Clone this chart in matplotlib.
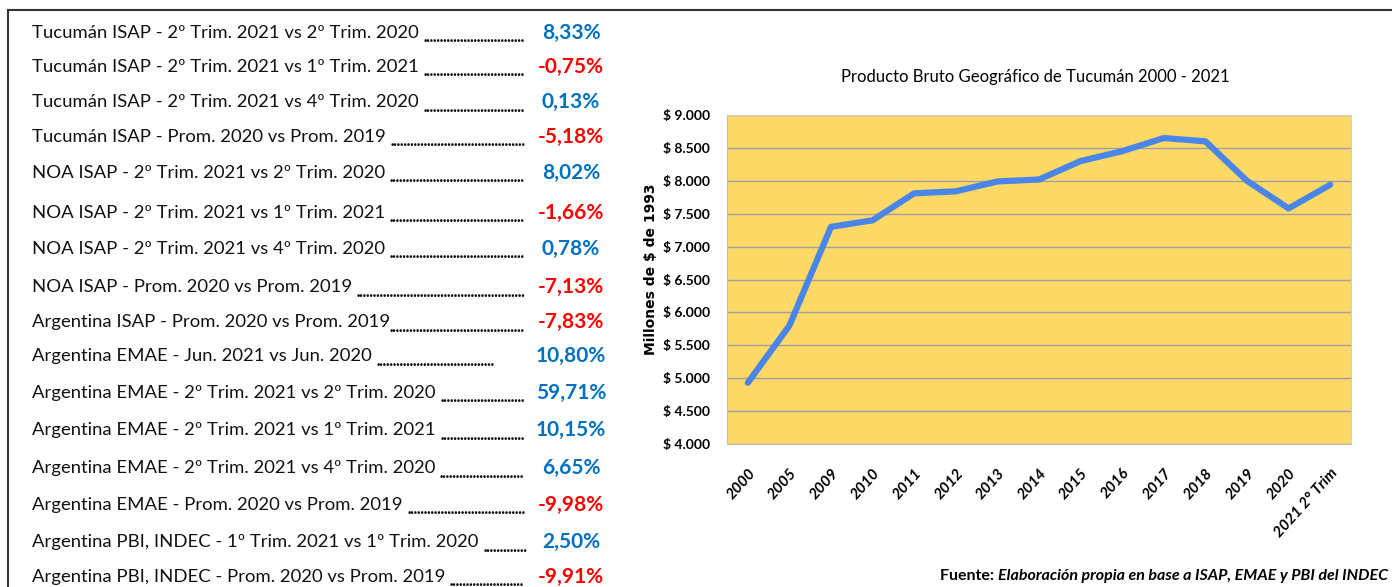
import matplotlib
matplotlib.use("Agg")
import matplotlib.pyplot as plt
from matplotlib import font_manager
from matplotlib.lines import Line2D

# ---- datos ----
etiquetas = [
    "Tucumán ISAP - 2º Trim. 2021 vs 2º Trim. 2020",
    "Tucumán ISAP - 2º Trim. 2021 vs 1º Trim. 2021",
    "Tucumán ISAP - 2º Trim. 2021 vs 4º Trim. 2020",
    "Tucumán ISAP - Prom. 2020 vs Prom. 2019",
    "NOA ISAP - 2º Trim. 2021 vs 2º Trim. 2020",
    "NOA ISAP - 2º Trim. 2021 vs 1º Trim. 2021",
    "NOA ISAP - 2º Trim. 2021 vs 4º Trim. 2020",
    "NOA ISAP - Prom. 2020 vs Prom. 2019",
    "Argentina ISAP - Prom. 2020 vs Prom. 2019",
    "Argentina EMAE - Jun. 2021 vs Jun. 2020",
    "Argentina EMAE - 2º Trim. 2021 vs 2º Trim. 2020",
    "Argentina EMAE - 2º Trim. 2021 vs 1º Trim. 2021",
    "Argentina EMAE - 2º Trim. 2021 vs 4º Trim. 2020",
    "Argentina EMAE - Prom. 2020 vs Prom. 2019",
    "Argentina PBI, INDEC - 1º Trim. 2021 vs 1º Trim. 2020",
    "Argentina PBI, INDEC - Prom. 2020 vs Prom. 2019",
]
variaciones = [8.33, -0.75, 0.13, -5.18, 8.02, -1.66, 0.78, -7.13,
               -7.83, 10.80, 59.71, 10.15, 6.65, -9.98, 2.50, -9.91]

anios = ["2000", "2005", "2009", "2010", "2011", "2012", "2013", "2014",
         "2015", "2016", "2017", "2018", "2019", "2020", "2021 2° Trim"]
pbg = [4930, 5800, 7300, 7400, 7810, 7840, 7990, 8020,
       8300, 8450, 8650, 8600, 8000, 7580, 7940]

# ---- fuentes ----
disponibles = {f.name for f in font_manager.fontManager.ttflist}
narrow = "Liberation Sans Narrow" if "Liberation Sans Narrow" in disponibles else "Lato"
texto = "Lato"

W, H = 1392, 587
fig = plt.figure(figsize=(W / 100, H / 100), dpi=100)

# marco (arriba e izquierda)
fig.add_artist(Line2D([8 / W, 1], [1 - 10 / H, 1 - 10 / H], color="#333333", lw=1.5))
fig.add_artist(Line2D([8 / W, 8 / W], [0, 1 - 10 / H], color="#333333", lw=1.5))

# ---- tabla de variaciones ----
filas_y = [33, 67, 102, 137, 173, 213, 249, 287, 322, 356, 393, 430, 468, 505, 542, 577]
fin_puntos = [527] * len(etiquetas)
fin_puntos[9] = 495

fig.canvas.draw()
renderer = fig.canvas.get_renderer()
punto = fig.text(0, 0, ".", fontsize=10, fontweight="heavy", family=texto)
ancho_punto = punto.get_window_extent(renderer).width * 0.85
punto.remove()

for i, (lab, val) in enumerate(zip(etiquetas, variaciones)):
    y = 1 - filas_y[i] / H
    t = fig.text(32 / W, y, lab + " ", fontsize=13.3, family=texto,
                 va="center", ha="left", color="#111111")
    x_fin = t.get_window_extent(renderer).x1
    if etiquetas[i].startswith("Argentina ISAP"):
        x_fin -= 5
    n = int((fin_puntos[i] - x_fin) / ancho_punto)
    if n > 0:
        d = fig.text(x_fin / W, y - 5 / H, "." * n, fontsize=10, fontweight="heavy",
                     family=texto, va="center", ha="left", color="#111111")
        w = d.get_window_extent(renderer).width
        # ajustar el espaciado de los puntos hasta el final de la fila
        d.set_text("." * int(n * (fin_puntos[i] - x_fin) / max(w, 1)))
    color = "#0070C0" if val >= 0 else "#FF0000"
    fig.text(571 / W, y, f"{val:.2f}%".replace(".", ","), fontsize=15,
             fontweight="bold", family=texto, va="center", ha="center", color=color)

# ---- grafico PBG ----
ax = fig.add_axes([727 / W, 1 - 444 / H, 624 / W, 329 / H])
ax.set_facecolor("#FFD966")
x = range(len(anios))
ax.plot(x, pbg, color="#4A86E8", lw=4.5, solid_capstyle="round", solid_joinstyle="round", zorder=3)
ax.set_xlim(-0.5, len(anios) - 0.5)
ax.set_ylim(4000, 9000)
ax.set_yticks(range(4000, 9001, 500))
ax.set_yticklabels([f"$ {v:,}".replace(",", ".") for v in range(4000, 9001, 500)],
                   fontsize=10, fontweight="bold", family=narrow)
ax.grid(axis="y", color="#A0A0A0", lw=1)
ax.set_axisbelow(True)
ax.tick_params(axis="both", length=0)
ax.tick_params(axis="y", pad=12)
ax.set_xticks(list(x))
ax.set_xticklabels(anios, rotation=48, ha="right", rotation_mode="anchor",
                   fontsize=11, fontweight="bold", fontstyle="italic", family=texto)
ax.tick_params(axis="x", pad=16)
for lado in ["left", "bottom"]:
    ax.spines[lado].set_color("#BFBFBF")
for lado in ["top", "right"]:
    ax.spines[lado].set_color("#D0D0D0")

fig.text(651 / W, 1 - 269 / H, "Millones de $ de 1993", rotation=90, fontsize=10,
         fontweight="bold", family="DejaVu Sans", va="center", ha="center")
fig.text(1035 / W, 1 - 77 / H, "Producto Bruto Geográfico de Tucumán 2000 - 2021",
         fontsize=12, family=narrow, ha="center", va="center")

f1 = fig.text(940 / W, 1 - 576 / H, "Fuente: ", fontsize=11.5, fontweight="bold",
              family=texto, va="center", ha="left")
x_f = f1.get_window_extent(renderer).x1
fig.text(x_f / W, 1 - 576 / H, "Elaboración propia en base a ISAP, EMAE y PBI del INDEC",
         fontsize=11.5, fontweight="bold", fontstyle="italic", family=texto,
         va="center", ha="left")

fig.savefig("out.png", dpi=100, facecolor="white")
